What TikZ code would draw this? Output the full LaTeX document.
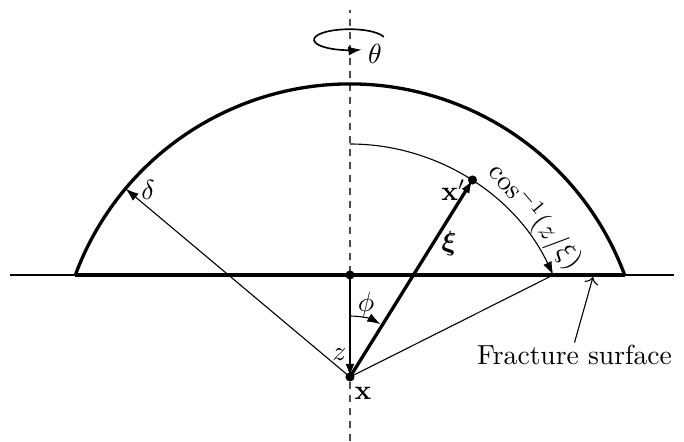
\documentclass[tikz,border=0pt]{standalone}
\usepackage{amsmath,amssymb}
\usetikzlibrary{arrows.meta}
\begin{document}
\begin{tikzpicture}[x=0.3626pt,y=0.3626pt,
  thickline/.style={line width=1.2pt},
  thinline/.style={line width=0.4pt},
  axisline/.style={line width=0.45pt, black!70, dash pattern=on 2.5pt off 2.2pt},
  tipend/.style={-{Latex[length=4.8pt,width=3.3pt]}},
  dot/.style={circle, fill, inner sep=0pt, minimum size=3.3pt},
  lbl/.style={inner sep=0pt}]
\useasboundingbox (-350,-64) rectangle (334,377);
% key points
\coordinate (X0) at (0,0);
\coordinate (P0) at (0,102);
\coordinate (L) at (-274.67,102);
\coordinate (R) at (274.67,102);
\coordinate (LL) at (-340,102);
\coordinate (RR) at (324,102);
\coordinate (AT) at (0,367);
\coordinate (AB) at (0,-64);
\coordinate (D) at (140:293);
\coordinate (XP0) at (122.5,197);
\coordinate (Q) at (203.2,102);
\coordinate (F) at (243,100);
\coordinate (S) at (0,233);
\coordinate (PH) at (0,61);
\coordinate (TH) at (33.8,340.0);
% axis
\draw[axisline] (AB) -- (AT);
% fracture plane
\draw[thinline] (LL) -- (RR);
\draw[thickline] (L) -- (R);
% hemisphere
\draw[thickline] (L) arc[start angle=159.63, end angle=20.37, radius=293];
% delta
\draw[thinline, tipend] (X0) -- (D);
% line to intersection
\draw[thinline] (X0) -- (Q);
% cos^-1 arc
\draw[thinline, tipend] (S) arc[start angle=90, end angle=25.96, x radius=226, y radius=233];
% z
\draw[line width=0.9pt, tipend] (P0) -- (X0);
% xi
\draw[thickline, tipend] (X0) -- (XP0);
% phi arc
\draw[thinline, tipend] (PH) arc[start angle=90, end angle=60, radius=61];
% theta rotation
\draw[line width=0.6pt, tipend] (TH) arc[start angle=15, end angle=290, x radius=35.5, y radius=10.5];
% dots
\node[dot] (p) at (P0) {};
\node[dot] (x) at (X0) {};
\node[dot] (xp) at (XP0) {};
% labels
\node[lbl] (ldelta) at (-202,187) {$\delta$};
\node[lbl] (lxp) at (103.5,187) {$\mathbf{x}'$};
\node[lbl] (lxi) at (99,133) {$\boldsymbol{\xi}$};
\node[lbl] (lphi) at (16,72) {$\phi$};
\node[lbl] (lz) at (-10.5,22) {$z$};
\node[lbl] (lx) at (13,-16) {$\mathbf{x}$};
\node[lbl] (ltheta) at (25,323) {$\theta$};
\node[lbl, rotate=-49.5] (lcos) at (185,160) {$\cos^{-1}(z/\xi)$};
\node[anchor=base, inner sep=0.5pt] (fs) at (224.5,13) {Fracture surface};
\draw[thinline, ->] (fs.north) -- (F);
\end{tikzpicture}
\end{document}
